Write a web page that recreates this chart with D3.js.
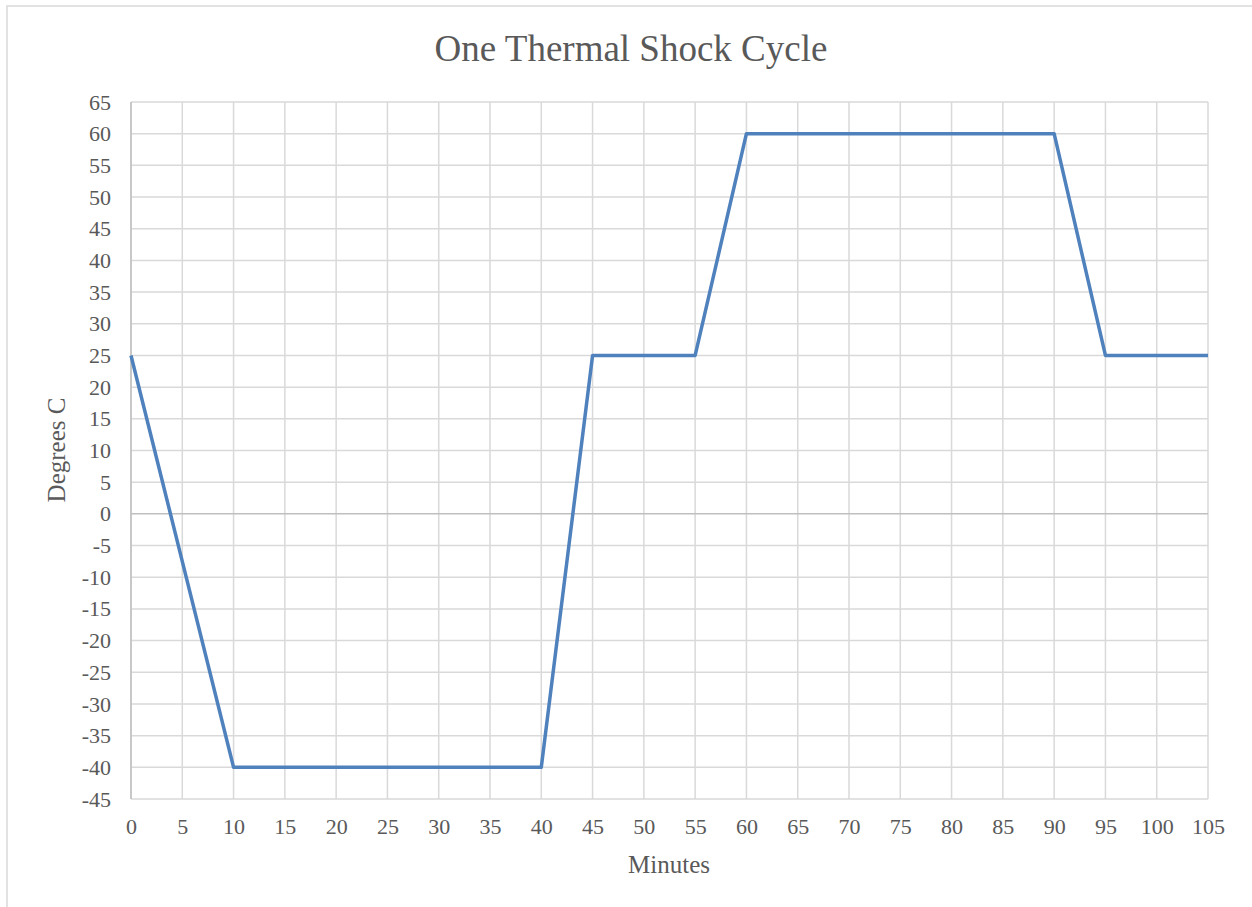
<!DOCTYPE html>
<html>
<head>
<meta charset="utf-8">
<script src="https://cdn.jsdelivr.net/npm/d3@7"></script>
<style>
  body { margin: 0; background: #fff; }
  text { font-family: "Liberation Serif", "Times New Roman", serif; fill: #595959; }
</style>
</head>
<body>
<svg width="1252" height="907"></svg>
<script>
// one cycle, minutes vs degrees
var minutes = [0, 10, 40, 45, 55, 60, 90, 95, 105];
var degrees = [25, -40, -40, 25, 25, 60, 60, 25, 25];

var xTicks = d3.range(0, 106, 5);
var yTicks = d3.range(-45, 66, 5);

var svg = d3.select('svg');

// chart frame (runs off the right and bottom edges)
svg.append('rect')
  .attr('x', 7).attr('y', 6)
  .attr('width', 1300).attr('height', 950)
  .attr('fill', 'none').attr('stroke', '#d9d9d9').attr('stroke-width', 1.5);

var plotL = 131, plotR = 1208, plotT = 102, plotB = 799;

var x = d3.scaleLinear().domain([0, 105]).range([plotL, plotR]);
var y = d3.scaleLinear().domain([-45, 65]).range([plotB, plotT]);

// gridlines
svg.append('g').selectAll('line').data(xTicks)
  .enter().append('line')
  .attr('x1', function(d) { return x(d); })
  .attr('x2', function(d) { return x(d); })
  .attr('y1', plotT).attr('y2', plotB)
  .attr('stroke', '#d9d9d9').attr('stroke-width', 1.5);

svg.append('g').selectAll('line').data(yTicks)
  .enter().append('line')
  .attr('x1', plotL).attr('x2', plotR)
  .attr('y1', function(d) { return y(d); })
  .attr('y2', function(d) { return y(d); })
  .attr('stroke', function(d) { return d == 0 ? '#bfbfbf' : '#d9d9d9'; })
  .attr('stroke-width', 1.5);

// y axis line
svg.append('line')
  .attr('x1', plotL).attr('x2', plotL).attr('y1', plotT).attr('y2', plotB)
  .attr('stroke', '#bfbfbf').attr('stroke-width', 1.5);

// tick labels, plain hyphen for negatives like the original
var fmt = function(d) { return String(d); };

var xAxis = d3.axisBottom(x).tickValues(xTicks).tickFormat(fmt).tickSize(0).tickPadding(19);
var gx = svg.append('g').attr('transform', 'translate(0,' + plotB + ')').call(xAxis);
gx.select('.domain').remove();

var yAxis = d3.axisLeft(y).tickValues(yTicks).tickFormat(fmt).tickSize(0).tickPadding(20);
var gy = svg.append('g').attr('transform', 'translate(' + plotL + ',0)').call(yAxis);
gy.select('.domain').remove();

svg.selectAll('.tick text')
  .attr('fill', '#595959')
  .style('font-family', '"Liberation Serif", serif')
  .style('font-size', '22px');

// the line
var line = d3.line()
  .x(function(d, i) { return x(minutes[i]); })
  .y(function(d) { return y(d); });

svg.append('path')
  .datum(degrees)
  .attr('d', line)
  .attr('fill', 'none')
  .attr('stroke', '#4f81bd')
  .attr('stroke-width', 3.5)
  .attr('stroke-linejoin', 'round');

// titles
svg.append('text')
  .attr('x', 631).attr('y', 61)
  .attr('text-anchor', 'middle')
  .style('font-size', '37px')
  .text('One Thermal Shock Cycle');

svg.append('text')
  .attr('x', 669).attr('y', 873)
  .attr('text-anchor', 'middle')
  .style('font-size', '25px')
  .text('Minutes');

svg.append('text')
  .attr('transform', 'translate(65,450) rotate(-90)')
  .attr('text-anchor', 'middle')
  .style('font-size', '25px')
  .text('Degrees C');
</script>
</body>
</html>
